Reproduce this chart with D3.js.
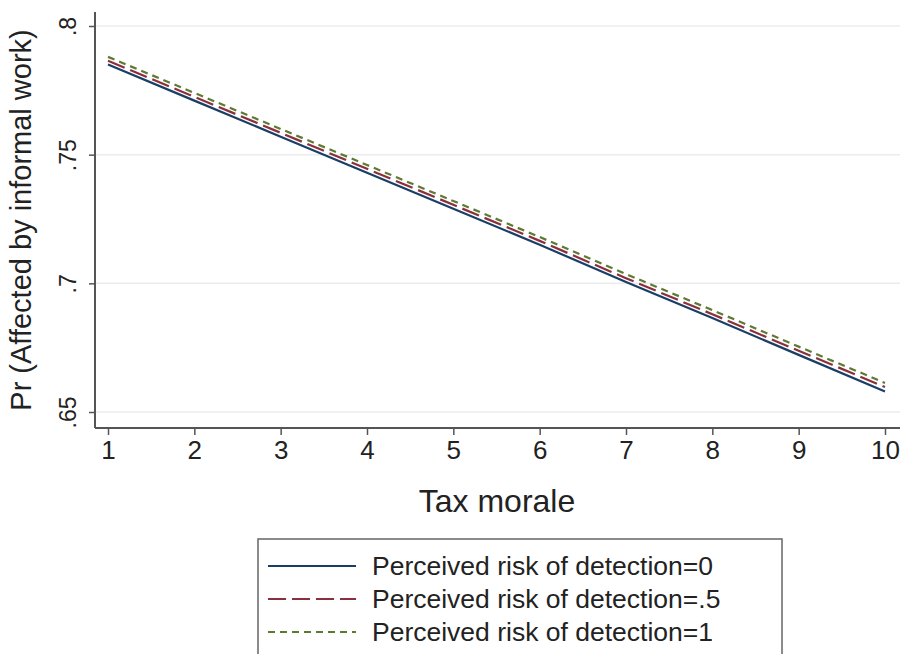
<!DOCTYPE html>
<html>
<head>
<meta charset="utf-8">
<style>
body { margin: 0; background: #fff; }
svg { font-family: Arial, "Liberation Sans", sans-serif; }
</style>
</head>
<body>
<svg width="904" height="654"></svg>
<script src="https://d3js.org/d3.v7.min.js"></script>
<script>

var taxMorale = [1, 2, 3, 4, 5, 6, 7, 8, 9, 10];
var risk0  = [0.7850, 0.7710, 0.7570, 0.7430, 0.7290, 0.7150, 0.7005, 0.6865, 0.6722, 0.6580];
var risk05 = [0.7865, 0.7725, 0.7585, 0.7445, 0.7305, 0.7165, 0.7020, 0.6880, 0.6738, 0.6597];
var risk1  = [0.7880, 0.7740, 0.7600, 0.7460, 0.7320, 0.7180, 0.7036, 0.6896, 0.6754, 0.6613];
var yTicks = [0.65, 0.7, 0.75, 0.8];
var yTickLabels = [".65", ".7", ".75", ".8"];
var legendLabels = ["Perceived risk of detection=0", "Perceived risk of detection=.5", "Perceived risk of detection=1"];

var svg = d3.select("svg");

var x = d3.scaleLinear().domain([1, 10]).range([108, 885]);
var y = d3.scaleLinear().domain([0.65, 0.8]).range([412, 26]);

var series = [
  {values: risk0,  color: "#1a3f66", dash: null},
  {values: risk05, color: "#8c2f3c", dash: "18,6"},
  {values: risk1,  color: "#5c7a32", dash: "7,5"}
];

// gridlines
svg.append("g").selectAll("line")
  .data(yTicks)
  .enter().append("line")
    .attr("x1", 96).attr("x2", 900)
    .attr("y1", function(d) { return y(d); })
    .attr("y2", function(d) { return y(d); })
    .attr("stroke", "#ececec")
    .attr("stroke-width", 1.5);

// y axis, labels rotated like stata
var yAxis = svg.append("g")
    .attr("transform", "translate(95,0)")
    .call(d3.axisLeft(y).tickValues(yTicks).tickSize(6)
      .tickFormat(function(d, i) { return yTickLabels[i]; }));
yAxis.select(".domain").attr("d", "M0,12V428").attr("stroke", "#555").attr("stroke-width", 2);
yAxis.selectAll(".tick line").attr("stroke", "#555").attr("stroke-width", 1.5);
yAxis.selectAll(".tick text")
    .attr("font-size", 23).attr("fill", "#222")
    .attr("x", null).attr("y", null)
    .attr("text-anchor", "middle")
    .attr("transform", "translate(-19,0) rotate(-90)")
    .attr("dy", 0);

// x axis
var xAxis = svg.append("g")
    .attr("transform", "translate(0,428)")
    .call(d3.axisBottom(x).tickValues(taxMorale).tickSize(7).tickFormat(d3.format("d")));
xAxis.select(".domain").attr("d", "M95,0H900").attr("stroke", "#555").attr("stroke-width", 2);
xAxis.selectAll(".tick line").attr("stroke", "#555").attr("stroke-width", 1.5);
xAxis.selectAll(".tick text").attr("font-size", 26).attr("fill", "#222").attr("y", 13);

// titles
svg.append("text")
    .attr("x", 497).attr("y", 512)
    .attr("text-anchor", "middle")
    .attr("font-size", 32).attr("fill", "#222")
    .text("Tax morale");

svg.append("text")
    .attr("transform", "translate(31,220) rotate(-90)")
    .attr("text-anchor", "middle")
    .attr("font-size", 29).attr("fill", "#222")
    .text("Pr (Affected by informal work)");

// lines
var line = d3.line()
    .x(function(d, i) { return x(taxMorale[i]); })
    .y(function(d) { return y(d); });

svg.append("g").selectAll("path")
  .data(series)
  .enter().append("path")
    .attr("d", function(d) { return line(d.values); })
    .attr("fill", "none")
    .attr("stroke", function(d) { return d.color; })
    .attr("stroke-width", 2.2)
    .attr("stroke-dasharray", function(d) { return d.dash; });

// legend
var legend = svg.append("g");
legend.append("rect")
    .attr("x", 258).attr("y", 539)
    .attr("width", 524).attr("height", 130)
    .attr("fill", "#fff")
    .attr("stroke", "#666").attr("stroke-width", 1.5);

var rows = legend.selectAll("g.row")
  .data(series)
  .enter().append("g")
    .attr("class", "row")
    .attr("transform", function(d, i) { return "translate(0," + (566 + i * 33) + ")"; });

rows.append("line")
    .attr("x1", 268).attr("x2", 356)
    .attr("stroke", function(d) { return d.color; })
    .attr("stroke-width", 2.2)
    .attr("stroke-dasharray", function(d) { return d.dash; });

rows.append("text")
    .attr("x", 372).attr("dy", "0.35em")
    .attr("font-size", 26.5).attr("fill", "#222")
    .text(function(d, i) { return legendLabels[i]; });

</script>
</body>
</html>
